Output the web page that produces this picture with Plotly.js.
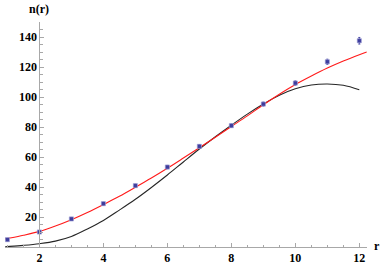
<!DOCTYPE html>
<html>
<head>
<meta charset="utf-8">
<script src="https://cdn.plot.ly/plotly-3.0.1.min.js"></script>
<style>html,body{margin:0;padding:0;background:#fff;}#chart{width:382px;height:265px;}</style>
</head>
<body>
<div id="chart"></div>
<script>
// Data points with error bars
const rPoints = [1, 2, 3, 4, 5, 6, 7, 8, 9, 10, 11, 12];
const nPoints = [4.9, 10.0, 18.7, 28.9, 40.9, 53.3, 67.1, 80.9, 95.3, 109.3, 123.5, 137.5];
const nErrors = [0.9, 0.9, 1.0, 1.0, 1.0, 1.1, 1.1, 1.2, 1.3, 1.4, 1.7, 2.2];

// Red fitted curve
const rRed = [0.93, 1, 1.5, 2, 2.5, 3, 3.5, 4, 4.5, 5, 5.5, 6, 6.5, 7, 7.5, 8, 8.5, 9, 9.5, 10, 10.5, 11, 11.5, 12, 12.23];
const nRed = [5.3, 5.6, 7.8, 10.4, 14.0, 18.2, 23.0, 28.3, 33.8, 39.8, 46.0, 52.5, 59.3, 66.2, 73.2, 80.3, 87.4, 94.8, 101.8, 108.3, 114.0, 119.3, 124.0, 128.2, 130.0];

// Black model curve
const rBlack = [0.93, 1, 1.5, 2, 2.5, 3, 3.5, 4, 4.5, 5, 5.5, 6, 6.5, 7, 7.5, 8, 8.5, 9, 9.5, 10, 10.5, 11, 11.5, 12];
const nBlack = [0.2, 0.3, 1.1, 2.2, 3.9, 7.0, 12.0, 17.7, 24.6, 31.8, 39.7, 48.0, 56.7, 65.3, 73.5, 81.2, 88.6, 95.3, 101.2, 105.5, 108.0, 108.7, 107.8, 104.8];

const xTicks = [2, 4, 6, 8, 10, 12];
const yTicks = [20, 40, 60, 80, 100, 120, 140];
const xLabel = 'r';
const yLabel = 'n(r)';

const axisGray = '#a8a8a8';
const tickFont = {family: 'Liberation Serif, Times New Roman, serif', size: 12, color: '#000', weight: 'bold'};

const traces = [
  {x: rBlack, y: nBlack, type: 'scatter', mode: 'lines', line: {color: '#262626', width: 1.1, shape: 'spline'}, hoverinfo: 'skip'},
  {x: rRed, y: nRed, type: 'scatter', mode: 'lines', line: {color: '#ff1a1a', width: 1.1, shape: 'spline'}, hoverinfo: 'skip'},
  {x: rPoints, y: nPoints, type: 'scatter', mode: 'markers',
   marker: {color: '#3d3d9e', size: 4.2, symbol: 'square', line: {color: '#a8a8d8', width: 0.6}},
   error_y: {type: 'data', array: nErrors, visible: true, color: '#4a4aa6', thickness: 1, width: 1}}
];

const yAxisPos = (2 - 0.925) / (12.24 - 0.925);

const layout = {
  width: 382, height: 265,
  margin: {l: 5, r: 15, t: 22, b: 18},
  paper_bgcolor: '#fff', plot_bgcolor: '#fff',
  showlegend: false,
  xaxis: {
    range: [0.925, 12.24], tickvals: xTicks, ticktext: xTicks.map(String),
    showgrid: false, zeroline: false, showline: true, linecolor: axisGray, linewidth: 1,
    ticks: 'inside', ticklen: 4, tickcolor: axisGray, tickwidth: 1,
    minor: {dtick: 0.5, tick0: 0, ticks: 'inside', ticklen: 2.5, tickcolor: axisGray, showgrid: false},
    tickfont: tickFont
  },
  yaxis: {
    range: [0, 150], tickvals: yTicks, ticktext: yTicks.map(String),
    anchor: 'free', position: yAxisPos,
    showgrid: false, zeroline: false, showline: true, linecolor: axisGray, linewidth: 1,
    ticks: 'inside', ticklen: 4, tickcolor: axisGray, tickwidth: 1,
    minor: {dtick: 5, tick0: 0, ticks: 'inside', ticklen: 2.5, tickcolor: axisGray, showgrid: false},
    tickfont: tickFont
  },
  annotations: [
    {text: yLabel, xref: 'x', x: 2, yref: 'paper', y: 1, yanchor: 'middle', xanchor: 'center', yshift: 13, showarrow: false, font: tickFont},
    {text: xLabel, xref: 'paper', x: 1, yref: 'y', y: 0, xanchor: 'center', yanchor: 'middle', xshift: 10, yshift: 1, showarrow: false, font: tickFont}
  ]
};

Plotly.newPlot('chart', traces, layout, {staticPlot: true, displayModeBar: false});
</script>
</body>
</html>
